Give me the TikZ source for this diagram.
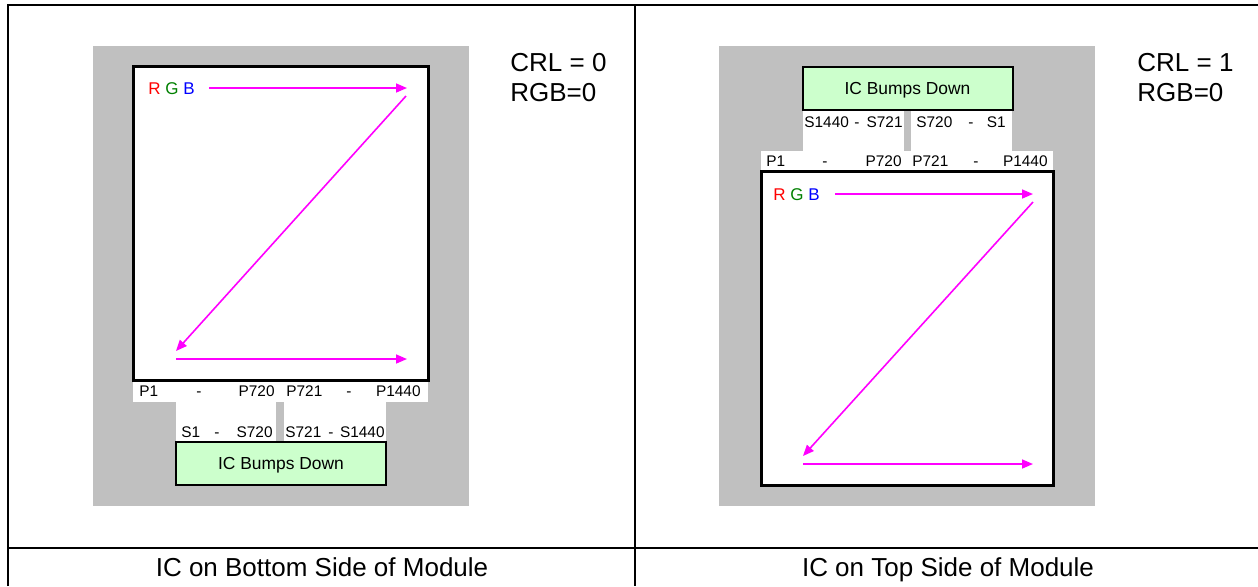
\documentclass[tikz,border=0pt]{standalone}
\usepackage{fontspec}
\setmainfont{Liberation Sans}
\usetikzlibrary{arrows.meta}
\definecolor{padgray}{HTML}{C0C0C0}
\definecolor{bumpgreen}{HTML}{CCFFCC}
\definecolor{scanpink}{HTML}{FF00FF}
\definecolor{rgbgreen}{HTML}{008000}
\begin{document}
\begin{tikzpicture}[x=0.5pt, y=-0.5pt,
  every node/.style={font=\fontsize{7.7}{9}\selectfont, inner sep=0pt},
  scan/.style={scanpink, line width=0.8pt, -{Triangle[length=5.5pt,width=4.5pt]}},
  bumps/.style={draw, line width=1pt, fill=bumpgreen, minimum width=105pt, minimum height=21.5pt, text depth=0pt, font=\fontsize{8.7}{10}\selectfont},
  panel/.style={draw, line width=1.5pt, fill=white},
  rgb/.style={anchor=base west, font=\fontsize{8.5}{10}\selectfont},
  mode/.style={font=\fontsize{13}{15}\selectfont, anchor=base west},
  caption/.style={font=\fontsize{13}{15}\selectfont, anchor=base}]
  \useasboundingbox (0,0) rectangle (1258,586);
  % frame
  \draw[line width=1pt] (8,586) -- (8,4.5) -- (1258,4.5);
  \draw[line width=1pt] (635,4.5) -- (635,586);
  \draw[line width=1pt] (8,548) -- (1258,548);
  % left half: IC on bottom side
  \fill[padgray] (93,46) rectangle (469,506);
  \fill[white] (133,380) rectangle (428,402);
  \fill[white] (176,402) rectangle (276,442);
  \fill[white] (284,402) rectangle (386,442);
  \draw[panel] (133,66) rectangle (428,380);
  \node[bumps] (bumpsL) at (281,463.5) {IC Bumps Down};
  \node[rgb] (rL) at (148,94) {\textcolor{red}{R} \textcolor{rgbgreen}{G} \textcolor{blue}{B}};
  \node[anchor=base west] (pA) at (139,396.5) {P1};
  \node[anchor=base] (pB) at (199,396.5) {-};
  \node[anchor=base east] (pC) at (275,396.5) {P720};
  \node[anchor=base west] (pD) at (286,396.5) {P721};
  \node[anchor=base] (pE) at (349,396.5) {-};
  \node[anchor=base east] (pF) at (421,396.5) {P1440};
  \node[anchor=base west] (sA) at (181,437.5) {S1};
  \node[anchor=base] (sB) at (217,437.5) {-};
  \node[anchor=base east] (sC) at (273,437.5) {S720};
  \node[anchor=base west] (sD) at (285,437.5) {S721};
  \node[anchor=base] (sE) at (331,437.5) {-};
  \node[anchor=base east] (sF) at (385,437.5) {S1440};
  \node[mode] (crlL) at (510,71) {CRL = 0};
  \node[mode] (rgbL) at (510,101) {RGB=0};
  \node[caption] (capL) at (322,576) {IC on Bottom Side of Module};
  \coordinate (zL1) at (209,88);
  \coordinate (zL2) at (407,88);
  \coordinate (zL3) at (406,96);
  \coordinate (zL4) at (176,351);
  \coordinate (zL5) at (176,359);
  \coordinate (zL6) at (407,359);
  \draw[scan] (zL1) -- (zL2);
  \draw[scan] (zL3) -- (zL4);
  \draw[scan] (zL5) -- (zL6);
  % right half: IC on top side
  \fill[padgray] (719,46) rectangle (1095,506);
  \fill[white] (761,151) rectangle (1053,171);
  \fill[white] (803,109) rectangle (904,151);
  \fill[white] (911,109) rectangle (1012,151);
  \draw[panel] (761,171) rectangle (1053,485);
  \node[bumps] (bumpsR) at (907.5,88) {IC Bumps Down};
  \node[rgb] (rR) at (773,200) {\textcolor{red}{R} \textcolor{rgbgreen}{G} \textcolor{blue}{B}};
  \node[anchor=base west] (qA) at (804,127.5) {S1440};
  \node[anchor=base] (qB) at (857,127.5) {-};
  \node[anchor=base east] (qC) at (903,127.5) {S721};
  \node[anchor=base west] (qD) at (916,127.5) {S720};
  \node[anchor=base] (qE) at (971,127.5) {-};
  \node[anchor=base east] (qF) at (1006,127.5) {S1};
  \node[anchor=base west] (tA) at (766,166.5) {P1};
  \node[anchor=base] (tB) at (825,166.5) {-};
  \node[anchor=base east] (tC) at (902,166.5) {P720};
  \node[anchor=base west] (tD) at (912,166.5) {P721};
  \node[anchor=base] (tE) at (976,166.5) {-};
  \node[anchor=base east] (tF) at (1048,166.5) {P1440};
  \node[mode] (crlR) at (1137,71) {CRL = 1};
  \node[mode] (rgbR) at (1137,101) {RGB=0};
  \node[caption] (capR) at (948,576) {IC on Top Side of Module};
  \coordinate (zR1) at (835,194);
  \coordinate (zR2) at (1033,194);
  \coordinate (zR3) at (1033,202);
  \coordinate (zR4) at (803,456);
  \coordinate (zR5) at (803,464);
  \coordinate (zR6) at (1033,464);
  \draw[scan] (zR1) -- (zR2);
  \draw[scan] (zR3) -- (zR4);
  \draw[scan] (zR5) -- (zR6);
\end{tikzpicture}
\end{document}
